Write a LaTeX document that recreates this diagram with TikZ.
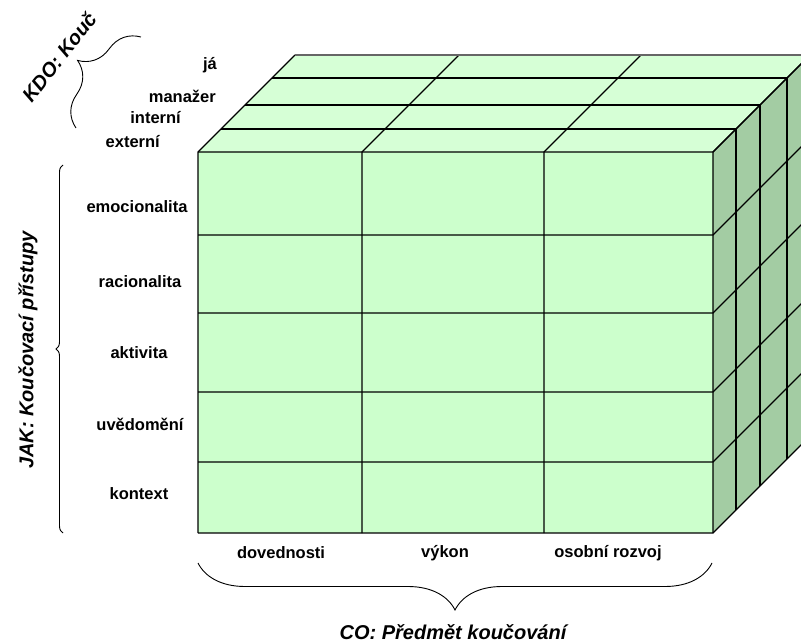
\documentclass[tikz,border=0pt]{standalone}
\usepackage{fontspec}
\setmainfont{Liberation Sans}
\usetikzlibrary{decorations.pathreplacing}
\definecolor{frontgreen}{RGB}{204,255,204}
\definecolor{topgreen}{RGB}{214,255,214}
\definecolor{sidegreen}{RGB}{163,204,163}

\begin{document}
\begin{tikzpicture}[x=1pt,y=-1pt,
    grid/.style={line width=1.1pt},
    lbl/.style={font=\fontsize{16.5}{18}\selectfont\bfseries, inner sep=0pt},
    ttl/.style={font=\fontsize{20}{22}\selectfont\bfseries\itshape, inner sep=0pt},
    brc/.style={decorate, decoration={brace, amplitude=#1}, line width=0.9pt}]
    \useasboundingbox (0,0) rectangle (801,644);

    \fill[topgreen] (198,152) -- (295,55) -- (810,55) -- (713,152) -- cycle;
    \fill[sidegreen] (713,152) -- (810,55) -- (810,436) -- (713,533) -- cycle;
    \fill[frontgreen] (198,152) rectangle (713,533);

    \foreach \r in {152,235,313,392,462,533}
        \draw[grid] (198,\r) -- (713,\r) -- ++(97,-97);
    \foreach \c in {198,362,544,713}
        \draw[grid] (\c,533) -- (\c,152) -- ++(97,-97);
    \foreach \d in {23,47,74}
        \draw[grid] (198+\d,152-\d) -- (713+\d,152-\d) -- (713+\d,533-\d);
    \draw[grid, black!60] (295,55) -- (810,55);

    \node[lbl, anchor=east] (ja) at (217,65) {já};
    \node[lbl, anchor=east] (manazer) at (216,96) {manažer};
    \node[lbl, anchor=east] (interni) at (181,118) {interní};
    \node[lbl, anchor=east] (externi) at (160,142) {externí};

    \node[lbl] (emoc) at (137,207) {emocionalita};
    \node[lbl] (racio) at (140,282) {racionalita};
    \node[lbl] (aktiv) at (139,353) {aktivita};
    \node[lbl] (uvedom) at (140,424) {uvědomění};
    \node[lbl] (kontext) at (139,494) {kontext};

    \node[lbl] (doved) at (281,553) {dovednosti};
    \node[lbl] (vykon) at (445,553) {výkon};
    \node[lbl] (rozvoj) at (608,553) {osobní rozvoj};

    \draw[brc=7] (63,533) -- (63,165);
    \draw[brc=47] (712,563) -- (198,563);
    \draw[brc=38] (76,128) -- (141,37);

    \node[ttl, rotate=90] (jak) at (28,350) {JAK: Koučovací přístupy};
    \node[ttl] (co) at (453,632) {CO: Předmět koučování};
    \node[ttl, rotate=52] (kdo) at (59,57) {KDO: Kouč};
\end{tikzpicture}
\end{document}
